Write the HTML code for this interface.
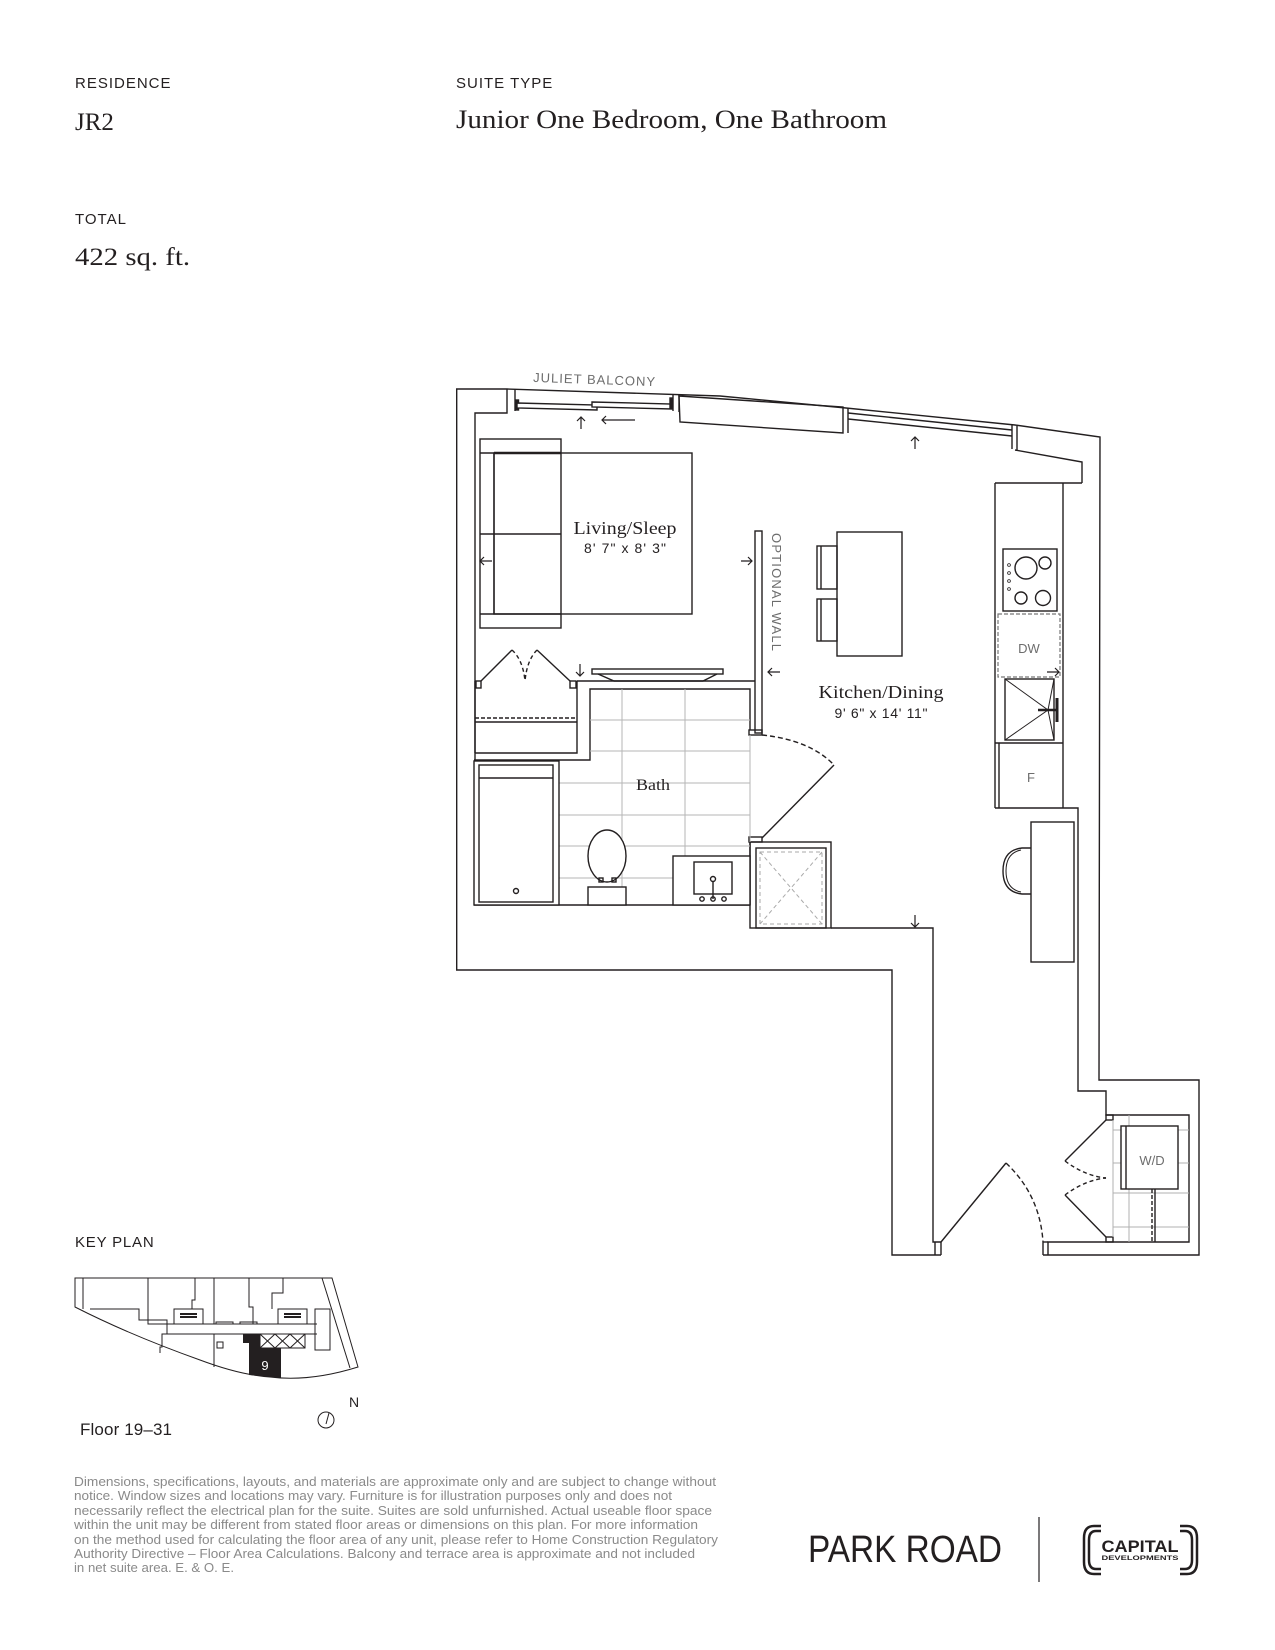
<!DOCTYPE html>
<html><head><meta charset="utf-8"><style>
html,body{margin:0;padding:0;background:#fff}
svg{display:block}
</style></head><body>
<svg xmlns="http://www.w3.org/2000/svg" width="1275" height="1650" viewBox="0 0 1275 1650">
<rect width="1275" height="1650" fill="#fff"/>
<g font-family="Liberation Sans, sans-serif" fill="#231f20">
<text x="75" y="88" font-size="15" letter-spacing="1">RESIDENCE</text>
<text x="75" y="130" font-size="25" font-family="Liberation Serif, serif">JR2</text>
<text x="75" y="224" font-size="15" letter-spacing="1">TOTAL</text>
<text x="75" y="265" font-size="25" font-family="Liberation Serif, serif" textLength="115" lengthAdjust="spacingAndGlyphs">422 sq. ft.</text>
<text x="456" y="88" font-size="15" letter-spacing="1">SUITE TYPE</text>
<text x="456" y="128" font-size="26" font-family="Liberation Serif, serif" textLength="431" lengthAdjust="spacingAndGlyphs">Junior One Bedroom, One Bathroom</text>
</g>

<g fill="none" stroke="#231f20" stroke-width="1.4" stroke-linejoin="miter">
<polyline points="941,1255 892,1255 892,970 456.7,970 456.7,389 507,389 720,396 846,408 1015,425 1100,437 1099,1080 1199,1080 1199,1255 1043,1255"/>
<polyline points="475,905 475,413 507,413 507,389"/>
<line x1="515" y1="389" x2="515" y2="411"/>
<rect x="516" y="400" width="2.5" height="10" fill="#231f20"/>
<polygon points="517,403 597,405 597,410 517,408" fill="#fff"/>
<polygon points="592,402 672,404 672,409 592,407" fill="#fff"/>
<rect x="670" y="398" width="2.5" height="10" fill="#231f20"/>
<line x1="673" y1="394" x2="673" y2="411"/>
<line x1="679" y1="395" x2="679" y2="412"/>
<polygon points="679,396 843,407 843,433 680,422"/>
<line x1="848" y1="408" x2="848" y2="433"/>
<line x1="848" y1="413" x2="1012" y2="430"/>
<line x1="848" y1="419" x2="1012" y2="436"/>
<line x1="1012" y1="425" x2="1012" y2="449"/>
<line x1="1017" y1="426" x2="1017" y2="450"/>
<polyline points="1015,450 1082,462 1082,483"/>
<polyline points="995,483 1082,483"/>
<polyline points="1063,483 1063,808"/>
<polyline points="995,808 1078,808 1078,1091 1106,1091 1106,1115 1189,1115 1189,1242 1048,1242 1048,1255"/>
<line x1="1043" y1="1242" x2="1043" y2="1255"/>
<line x1="1043" y1="1242" x2="1048" y2="1242"/>
<polyline points="831,928 933,928 933,1242 941,1242 941,1255"/>
<line x1="935" y1="1242" x2="935" y2="1255"/>
<line x1="941" y1="1242" x2="1006" y2="1163"/>
<path d="M1006,1163 Q1040,1195 1043,1242" stroke-dasharray="5,3"/>
<rect x="1106" y="1115" width="7" height="5"/>
<rect x="1106" y="1237" width="7" height="5"/>
<line x1="1106" y1="1120" x2="1065" y2="1161"/>
<path d="M1065,1161 Q1085,1176 1106,1178" stroke-dasharray="4,3"/>
<line x1="1106" y1="1237" x2="1065" y2="1195"/>
<path d="M1065,1195 Q1085,1180 1106,1178" stroke-dasharray="4,3"/>
<g stroke="#b0b0b0" stroke-width="1">
<line x1="1129" y1="1115" x2="1129" y2="1242"/>
<line x1="1113" y1="1130" x2="1189" y2="1130"/>
<line x1="1113" y1="1163" x2="1121" y2="1163"/>
<line x1="1178" y1="1163" x2="1189" y2="1163"/>
<line x1="1113" y1="1193" x2="1189" y2="1193"/>
<line x1="1113" y1="1227" x2="1189" y2="1227"/>
<line x1="1113" y1="1120" x2="1113" y2="1237"/>
</g>
<rect x="1121" y="1126" width="57" height="63" fill="#fff"/>
<line x1="1126" y1="1126" x2="1126" y2="1189"/>
<line x1="1152" y1="1189" x2="1152" y2="1242" stroke-dasharray="4,2"/>
<line x1="1155" y1="1189" x2="1155" y2="1242"/>

<line x1="995" y1="483" x2="995" y2="808"/>
<line x1="999" y1="743" x2="999" y2="808"/>
<line x1="995" y1="743" x2="1063" y2="743"/>
<rect x="1003" y="549" width="54" height="62"/>
<circle cx="1026" cy="568" r="11"/>
<circle cx="1045" cy="563" r="6"/>
<circle cx="1021" cy="598" r="6"/>
<circle cx="1043" cy="598" r="7.5"/>
<g stroke-width="0.8"><circle cx="1009" cy="565" r="1.4"/><circle cx="1009" cy="573" r="1.4"/><circle cx="1009" cy="581" r="1.4"/><circle cx="1009" cy="589" r="1.4"/></g>
<rect x="998" y="614" width="62" height="63" stroke="#777" stroke-dasharray="4,2" stroke-width="1.2"/>
<rect x="1005" y="679" width="49" height="61"/>
<polyline points="1005,679 1048,710 1005,740" stroke-width="1"/>
<polyline points="1054,679 1048,710 1054,740" stroke-width="1"/>
<line x1="1038" y1="710" x2="1058" y2="710" stroke-width="2.5"/>
<line x1="1057" y1="698" x2="1057" y2="722" stroke-width="3"/>
<rect x="1031" y="822" width="43" height="140"/>
<path d="M1031,848 L1022,848 Q1003,850 1003,871 Q1003,892 1022,894 L1031,894"/>
<path d="M1021,850 Q1006,853 1006,871 Q1006,889 1021,892" stroke-width="1"/>
<rect x="750" y="842" width="81" height="86"/>
<rect x="756" y="848" width="70" height="80"/>
<g stroke="#aaa" stroke-width="1" stroke-dasharray="4,3">
<rect x="760" y="852" width="62" height="72"/>
<line x1="760" y1="852" x2="822" y2="924"/>
<line x1="822" y1="852" x2="760" y2="924"/>
</g>
<rect x="755" y="531" width="7" height="202"/>
<rect x="749" y="730" width="13" height="5"/>
<rect x="749" y="837" width="13" height="5"/>
<polyline points="577,681 755,681"/>
<polyline points="577,681 577,753 475,753"/>
<polyline points="750,730 750,689 590,689 590,760 474,760"/>
<line x1="474" y1="905" x2="750" y2="905"/>
<line x1="750" y1="842" x2="750" y2="905"/>
<g stroke="#b5b5b5" stroke-width="1">
<line x1="622" y1="689" x2="622" y2="905"/>
<line x1="685" y1="689" x2="685" y2="856"/>
<line x1="590" y1="720" x2="750" y2="720"/>
<line x1="590" y1="751" x2="750" y2="751"/>
<line x1="559" y1="783" x2="750" y2="783"/>
<line x1="559" y1="815" x2="750" y2="815"/>
<line x1="559" y1="846" x2="750" y2="846"/>
<line x1="559" y1="878" x2="673" y2="878"/>
<line x1="750" y1="735" x2="750" y2="842"/>
</g>
<rect x="474" y="761" width="85" height="144" fill="#fff"/>
<rect x="479" y="765" width="74" height="137"/>
<line x1="479" y1="778" x2="553" y2="778"/>
<circle cx="516" cy="891" r="2.5"/>
<rect x="588" y="887" width="38" height="18" fill="#fff"/>
<ellipse cx="607" cy="856" rx="19" ry="26" fill="#fff"/>
<rect x="599" y="878" width="4" height="4"/>
<rect x="612" y="878" width="4" height="4"/>
<rect x="673" y="856" width="77" height="49" fill="#fff"/>
<rect x="694" y="862" width="38" height="32"/>
<circle cx="713" cy="879" r="2.5"/>
<line x1="713" y1="882" x2="713" y2="899"/>
<circle cx="713" cy="899" r="2.2"/>
<circle cx="702" cy="899" r="2.2"/>
<circle cx="724" cy="899" r="2.2"/>
<line x1="762" y1="838" x2="834" y2="765"/>
<path d="M762,735 Q810,740 834,765" stroke-dasharray="5,3"/>
<rect x="476" y="681" width="5" height="7"/>
<rect x="570" y="681" width="6" height="7"/>
<line x1="475" y1="681" x2="475" y2="753"/>
<line x1="481" y1="681" x2="512" y2="650"/>
<line x1="570" y1="681" x2="537" y2="650"/>
<path d="M512,650 Q523,660 525,681 M537,650 Q527,660 525,681" stroke-dasharray="4,3"/>
<line x1="475" y1="718" x2="577" y2="718" stroke-dasharray="4,2"/>
<line x1="475" y1="722" x2="577" y2="722"/>
<rect x="592" y="669" width="131" height="5"/>
<polyline points="598,674 614,681 703,681 717,674"/>
<rect x="480" y="439" width="81" height="189"/>
<line x1="480" y1="453" x2="561" y2="453"/>
<line x1="494" y1="453" x2="494" y2="614"/>
<line x1="480" y1="534" x2="561" y2="534"/>
<line x1="480" y1="614" x2="561" y2="614"/>
<rect x="494" y="453" width="198" height="161" fill="none"/>
<line x1="494" y1="453" x2="561" y2="453" stroke-width="2.5"/>
<rect x="837" y="532" width="65" height="124"/>
<rect x="817" y="546" width="20" height="43"/>
<line x1="821" y1="546" x2="821" y2="589"/>
<rect x="817" y="599" width="20" height="42"/>
<line x1="821" y1="599" x2="821" y2="641"/>
</g>

<g fill="none" stroke="#231f20" stroke-width="1.2">
<path d="M581,429 V417 M577,421 L581,417 L585,421"/>
<path d="M602,420 H635 M606,416 L602,420 L606,424"/>
<path d="M915,449 V437 M911,441 L915,437 L919,441"/>
<path d="M480,561 H492 M484,557 L480,561 L484,565"/>
<path d="M741,561 H752 M748,557 L752,561 L748,565"/>
<path d="M580,664 V676 M576,672 L580,676 L584,672"/>
<path d="M768,672 H780 M772,668 L768,672 L772,676"/>
<path d="M1047,672 H1059 M1055,668 L1059,672 L1055,676"/>
<path d="M915,915 V927 M911,923 L915,927 L919,923"/>
</g>

<g font-family="Liberation Serif, serif" fill="#231f20" text-anchor="middle">
<text x="625" y="534" font-size="18" textLength="103" lengthAdjust="spacingAndGlyphs">Living/Sleep</text>
<text x="881" y="698" font-size="18" textLength="125" lengthAdjust="spacingAndGlyphs">Kitchen/Dining</text>
<text x="653" y="790" font-size="16" textLength="34" lengthAdjust="spacingAndGlyphs">Bath</text>
</g>
<g font-family="Liberation Sans, sans-serif" fill="#231f20" text-anchor="middle">
<text x="625" y="553" font-size="14" textLength="82">8' 7" x 8' 3"</text>
<text x="881" y="718" font-size="14" textLength="93">9' 6" x 14' 11"</text>
</g>
<g font-family="Liberation Sans, sans-serif" fill="#6d6d6d" font-size="13" text-anchor="middle">
<text x="1029" y="653">DW</text>
<text x="1031" y="782">F</text>
<text x="1152" y="1165">W/D</text>
<text transform="translate(594,384) rotate(2)" font-size="13" textLength="122">JULIET BALCONY</text>
<text transform="translate(772,592) rotate(90)" font-size="13" textLength="118">OPTIONAL WALL</text>
</g>

<text x="75" y="1247" font-family="Liberation Sans, sans-serif" font-size="15" letter-spacing="0.8" fill="#231f20">KEY PLAN</text>
<g fill="none" stroke="#231f20" stroke-width="1">
<path d="M75,1278 H332 L358,1367 Q310,1382 270,1377 Q240,1375 200,1360 Q130,1335 75,1307 Z"/>
<line x1="322" y1="1278" x2="350" y2="1368"/>
<line x1="83" y1="1278" x2="83" y2="1309"/>
<polyline points="90,1309 139,1309 139,1320 167,1320 167,1334 162,1334 162,1347 160,1347 160,1353"/>
<line x1="148" y1="1278" x2="148" y2="1320"/>
<polyline points="195,1278 195,1300 192,1300 192,1309"/>
<line x1="214" y1="1278" x2="214" y2="1324"/>
<polyline points="249,1278 249,1307 253,1307 253,1324"/>
<polyline points="283,1278 283,1293 272,1293 272,1309"/>
<rect x="174" y="1309" width="29" height="15"/>
<rect x="278" y="1309" width="29" height="15"/>
<rect x="216" y="1322" width="17" height="2"/>
<rect x="240" y="1322" width="17" height="2"/>
<polyline points="148,1320 148,1324 315,1324"/>
<rect x="315" y="1309" width="15" height="41"/>
<line x1="165" y1="1334" x2="317" y2="1334"/>
<line x1="167" y1="1324" x2="317" y2="1324"/>
<line x1="214" y1="1334" x2="214" y2="1367"/>
<rect x="217" y="1342" width="6" height="6"/>
<rect x="260" y="1334" width="45" height="14"/>
<path d="M260,1334 l15,14 m0,-14 l-15,14 M275,1334 l15,14 m0,-14 l-15,14 M290,1334 l15,14 m0,-14 l-15,14"/>
</g>
<g stroke="#231f20" stroke-width="1">
<path d="M180,1314 h17 M180,1317 h17 M284,1314 h17 M284,1317 h17" stroke-width="2"/>
</g>
<polygon points="243,1334 260,1334 260,1348 281,1348 281,1378 249,1375 249,1343 243,1343" fill="#231f20"/>
<text x="265" y="1370" font-family="Liberation Sans, sans-serif" font-size="13" fill="#fff" text-anchor="middle">9</text>
<text x="349" y="1407" font-family="Liberation Sans, sans-serif" font-size="14" fill="#231f20">N</text>
<circle cx="326" cy="1420" r="8" fill="none" stroke="#231f20" stroke-width="1"/>
<line x1="326" y1="1424" x2="329" y2="1413" stroke="#231f20" stroke-width="1"/>
<text x="80" y="1435" font-family="Liberation Sans, sans-serif" font-size="17" fill="#231f20" textLength="92">Floor 19–31</text>

<g font-family="Liberation Sans, sans-serif" font-size="13" fill="#8a8a8a">
<text x="74" y="1486" textLength="642" lengthAdjust="spacingAndGlyphs">Dimensions, specifications, layouts, and materials are approximate only and are subject to change without</text>
<text x="74" y="1500" textLength="598" lengthAdjust="spacingAndGlyphs">notice. Window sizes and locations may vary. Furniture is for illustration purposes only and does not</text>
<text x="74" y="1515" textLength="638" lengthAdjust="spacingAndGlyphs">necessarily reflect the electrical plan for the suite. Suites are sold unfurnished. Actual useable floor space</text>
<text x="74" y="1529" textLength="624" lengthAdjust="spacingAndGlyphs">within the unit may be different from stated floor areas or dimensions on this plan. For more information</text>
<text x="74" y="1544" textLength="644" lengthAdjust="spacingAndGlyphs">on the method used for calculating the floor area of any unit, please refer to Home Construction Regulatory</text>
<text x="74" y="1558" textLength="621" lengthAdjust="spacingAndGlyphs">Authority Directive – Floor Area Calculations. Balcony and terrace area is approximate and not included</text>
<text x="74" y="1572" textLength="160" lengthAdjust="spacingAndGlyphs">in net suite area. E. &amp; O. E.</text>
</g>

<text x="808" y="1562" font-family="Liberation Sans, sans-serif" font-size="38" fill="#231f20" textLength="194" lengthAdjust="spacingAndGlyphs">PARK ROAD</text>
<line x1="1039" y1="1517" x2="1039" y2="1582" stroke="#231f20" stroke-width="1.2"/>
<g fill="none" stroke="#231f20" stroke-width="2.5">
<path d="M1101,1526 H1094 Q1084,1526 1084,1538 V1562 Q1084,1574 1094,1574 H1101"/>
<path d="M1101,1531 H1096 Q1089,1531 1089,1540 V1560 Q1089,1569 1096,1569 H1101"/>
<path d="M1180,1526 H1187 Q1197,1526 1197,1538 V1562 Q1197,1574 1187,1574 H1180"/>
<path d="M1180,1531 H1185 Q1192,1531 1192,1540 V1560 Q1192,1569 1185,1569 H1180"/>
</g>
<text x="1140" y="1552" font-family="Liberation Sans, sans-serif" font-size="17" font-weight="bold" fill="#231f20" text-anchor="middle" textLength="77" lengthAdjust="spacingAndGlyphs">CAPITAL</text>
<text x="1140" y="1560" font-family="Liberation Sans, sans-serif" font-size="6.5" font-weight="bold" fill="#231f20" text-anchor="middle" textLength="77" lengthAdjust="spacingAndGlyphs">DEVELOPMENTS</text>
</svg>
</body></html>
